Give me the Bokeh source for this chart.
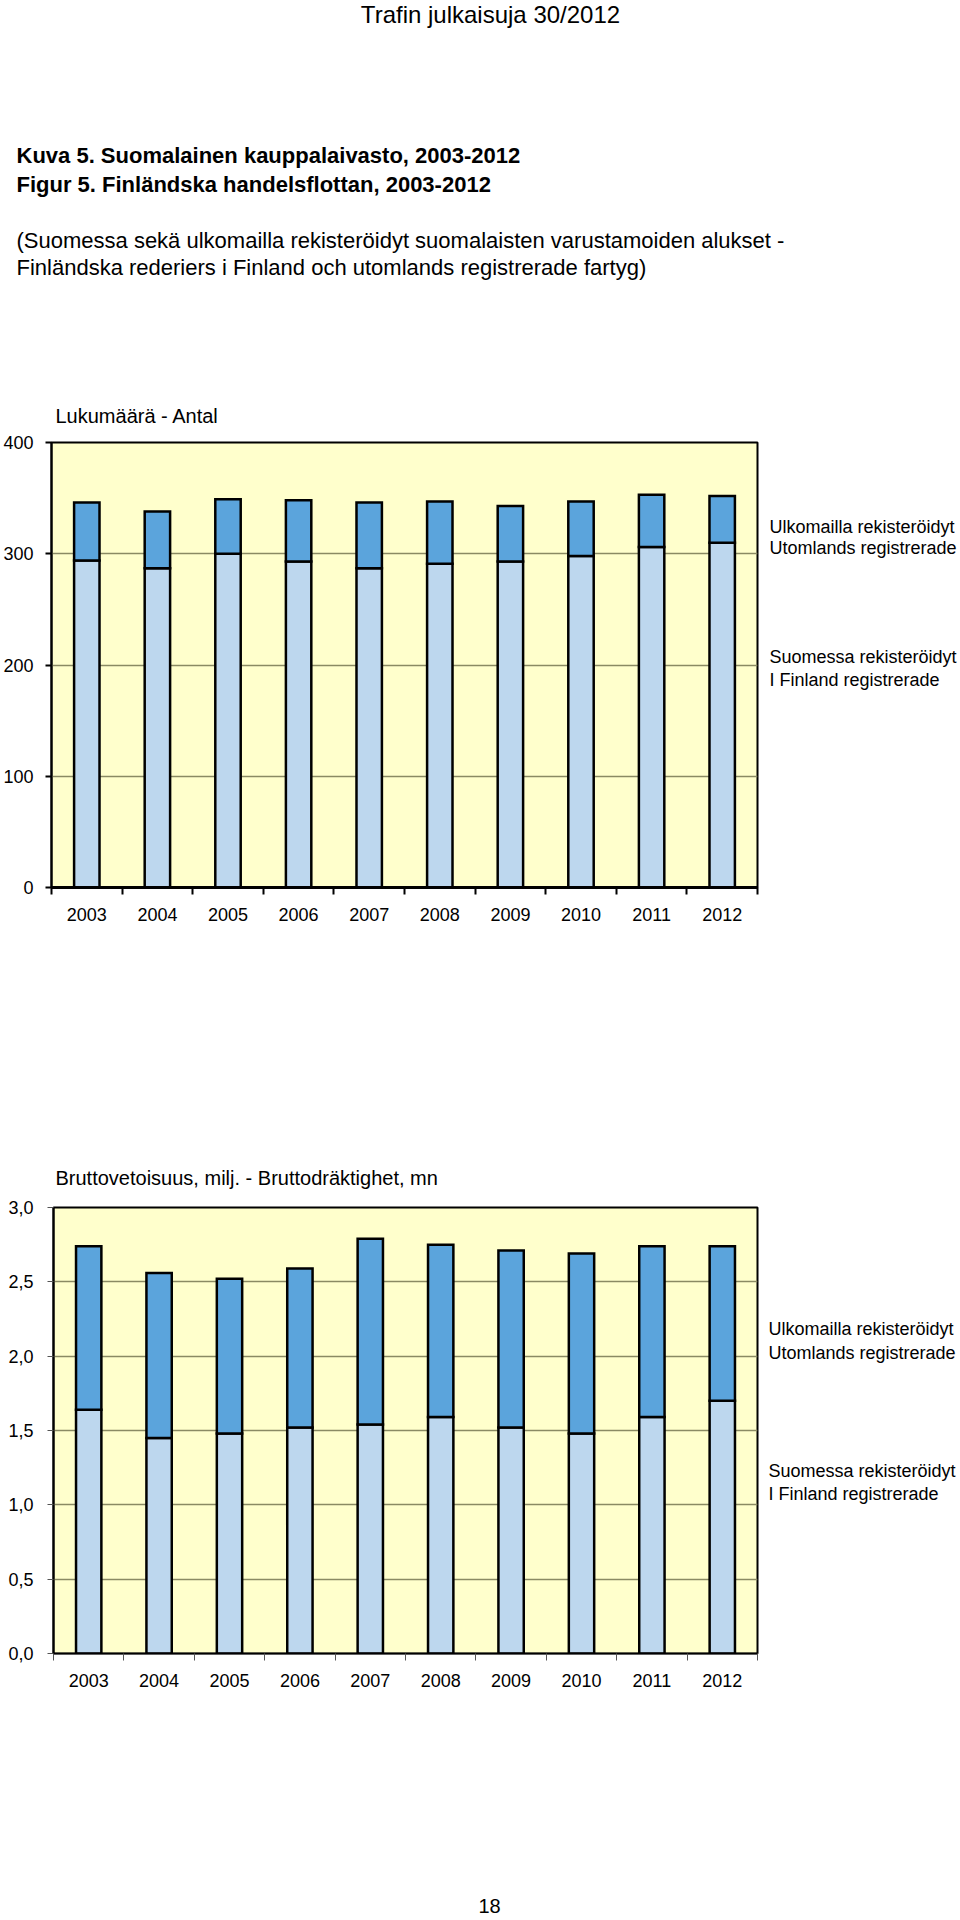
from bokeh.plotting import figure
from bokeh.layouts import column, row
from bokeh.models import ColumnDataSource, Range1d, FixedTicker, CustomJSTickFormatter
from bokeh.core.properties import value
from bokeh.embed import file_html
from bokeh.resources import INLINE

# ---------------- data ----------------
years = ["2003", "2004", "2005", "2006", "2007", "2008", "2009", "2010", "2011", "2012"]
count_finland = [294, 287, 300, 293, 287, 291, 293, 298, 306, 310]
count_abroad = [52, 51, 49, 55, 59, 56, 50, 49, 47, 42]
gt_finland = [1.64, 1.45, 1.48, 1.52, 1.54, 1.59, 1.52, 1.48, 1.59, 1.70]
gt_abroad = [1.10, 1.11, 1.04, 1.07, 1.25, 1.16, 1.19, 1.21, 1.15, 1.04]
count_ticks = [0, 100, 200, 300, 400]
gt_ticks = [0.0, 0.5, 1.0, 1.5, 2.0, 2.5, 3.0]

header_text = "Trafin julkaisuja 30/2012"
title_lines = ["Kuva 5. Suomalainen kauppalaivasto, 2003-2012",
               "Figur 5. Finländska handelsflottan, 2003-2012"]
subtitle_lines = ["(Suomessa sekä ulkomailla rekisteröidyt suomalaisten varustamoiden alukset -",
                  "Finländska rederiers i Finland och utomlands registrerade fartyg)"]
count_title = "Lukumäärä - Antal"
gt_title = "Bruttovetoisuus, milj. - Bruttodräktighet, mn"
legend_abroad = ["Ulkomailla rekisteröidyt", "Utomlands registrerade"]
legend_finland = ["Suomessa rekisteröidyt", "I Finland registrerade"]
page_number = "18"

FONT = "Liberation Sans"
BG = "#FFFFCC"
LIGHT = "#BDD7EE"
DARK = "#5BA4DC"
GRID = "#8A8A63"
PAGE_W = 960


def text_panel(width, height):
    """Blank figure whose frame fills the whole canvas, y pointing down (pixels)."""
    p = figure(width=width, height=height, output_backend="svg", toolbar_location=None,
               x_range=Range1d(0, width), y_range=Range1d(height, 0),
               x_axis_type=None, y_axis_type=None,
               min_border_left=0, min_border_right=0, min_border_top=0, min_border_bottom=0)
    p.outline_line_color = None
    p.grid.grid_line_color = None
    p.background_fill_color = "white"
    p.border_fill_color = "white"
    return p


def put_text(p, x, y, text, size, style="normal", align="left", font=FONT):
    p.text(x=[x], y=[y], text=[text], text_font=value(font), text_font_size=value(size),
           text_font_style=style, text_align=align, text_baseline="middle",
           text_color="black")


def make_chart(height, top, left, frame_w, frame_h, ymax, ticks, fin, abr, fmt_code,
               ylab_standoff, tick_color, tick_w, xaxis_w):
    right = 2
    width = left + frame_w + right
    p = figure(width=width, height=height, output_backend="svg", toolbar_location=None,
               x_range=Range1d(0, len(years)), y_range=Range1d(0, ymax),
               min_border_left=left, min_border_top=top, min_border_right=right,
               min_border_bottom=height - top - frame_h)
    p.background_fill_color = BG
    p.border_fill_color = "white"
    p.outline_line_color = "black"
    p.outline_line_width = 2

    xs = [i + 0.5 for i in range(len(years))]
    src = ColumnDataSource(dict(x=xs, fin=fin, abr=abr))
    p.vbar_stack(["fin", "abr"], x="x", width=0.36, source=src,
                 fill_color=[LIGHT, DARK], line_color="black", line_width=2.5,
                 line_join="miter")

    p.yaxis.ticker = FixedTicker(ticks=ticks, minor_ticks=[])
    p.yaxis.formatter = CustomJSTickFormatter(code=fmt_code)
    p.yaxis.axis_line_color = "black"
    p.yaxis.axis_line_width = 2
    p.yaxis.major_tick_out = 6
    p.yaxis.major_tick_in = 0
    p.yaxis.major_tick_line_color = tick_color
    p.yaxis.major_tick_line_width = tick_w
    p.yaxis.major_label_standoff = ylab_standoff
    p.yaxis.major_label_text_font = FONT
    p.yaxis.major_label_text_font_size = "18px"
    p.yaxis.major_label_text_color = "black"

    p.xaxis.ticker = FixedTicker(ticks=xs, minor_ticks=list(range(len(years) + 1)))
    p.xaxis.formatter = CustomJSTickFormatter(args=dict(labels=years),
                                              code="return labels[Math.floor(tick)];")
    p.xaxis.axis_line_color = "black"
    p.xaxis.axis_line_width = xaxis_w
    p.xaxis.major_tick_line_color = None
    p.xaxis.major_tick_out = 0
    p.xaxis.major_tick_in = 0
    p.xaxis.minor_tick_out = 7
    p.xaxis.minor_tick_in = 0
    p.xaxis.minor_tick_line_color = tick_color
    p.xaxis.minor_tick_line_width = tick_w
    p.xaxis.major_label_standoff = 13
    p.xaxis.major_label_text_font = FONT
    p.xaxis.major_label_text_font_size = "18px"
    p.xaxis.major_label_text_color = "black"

    p.xgrid.grid_line_color = None
    p.ygrid.ticker = FixedTicker(ticks=ticks[1:-1])
    p.ygrid.grid_line_color = GRID
    p.ygrid.grid_line_width = 1.3
    return p


# ---------------- header block (page y 0-428) ----------------
head = text_panel(PAGE_W, 428)
put_text(head, 490, 14, header_text, "24px", align="center")
put_text(head, 16, 155, title_lines[0], "22px", style="bold")
put_text(head, 16, 184, title_lines[1], "22px", style="bold")
put_text(head, 16, 240, subtitle_lines[0], "22px")
put_text(head, 16, 267, subtitle_lines[1], "22px")
put_text(head, 55, 415, count_title, "20px")

# ---------------- chart 1 (page y 428-950) ----------------
c1 = make_chart(522, 14, 51, 706, 445, 400, count_ticks, count_finland, count_abroad,
                "return tick.toFixed(0);", 12, "black", 2, 3)
leg1 = text_panel(PAGE_W - c1.width, 522)
put_text(leg1, 10, 99, legend_abroad[0], "18px")
put_text(leg1, 10, 124, legend_abroad[1], "18px")
put_text(leg1, 10, 252, legend_finland[0], "18px")
put_text(leg1, 10, 279, legend_finland[1], "18px")

# ---------------- middle block (page y 950-1190) ----------------
mid = text_panel(PAGE_W, 240)
put_text(mid, 55, 227, gt_title, "20px")

# ---------------- chart 2 (page y 1190-1700) ----------------
c2 = make_chart(510, 17, 53, 704, 446, 3.0, gt_ticks, gt_finland, gt_abroad,
                "return tick.toFixed(1).replace('.', ',');", 14, "#555555", 1, 1.5)
leg2 = text_panel(PAGE_W - c2.width, 510)
put_text(leg2, 9, 139, legend_abroad[0], "18px")
put_text(leg2, 9, 166, legend_abroad[1], "18px")
put_text(leg2, 9, 301, legend_finland[0], "18px")
put_text(leg2, 9, 328, legend_finland[1], "18px")

# ---------------- footer (page y 1700-1920) ----------------
foot = text_panel(PAGE_W, 220)
put_text(foot, 489, 205, page_number, "20px", align="center")

layout = column(head, row(c1, leg1), mid, row(c2, leg2), foot)
open("out.html", "w").write(file_html(layout, INLINE))
